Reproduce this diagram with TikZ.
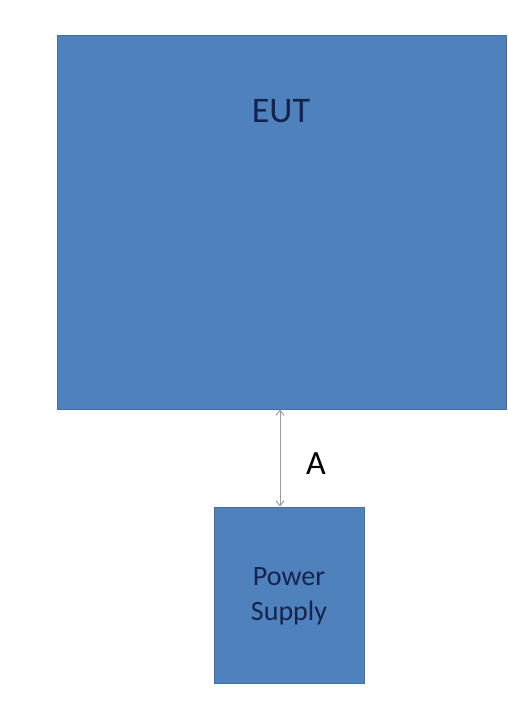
\documentclass[tikz,border=0pt]{standalone}
\usepackage{fontspec}
\setmainfont{Carlito}
\usetikzlibrary{arrows.meta}
\definecolor{boxfill}{HTML}{4F81BD}
\definecolor{boxline}{HTML}{41719C}
\definecolor{navy}{HTML}{16234F}
\definecolor{arrowgray}{HTML}{9A9A9A}
\tikzset{
  bluebox/.style={draw=boxline, line width=1pt, fill=boxfill, inner sep=0pt},
  link/.style={draw=arrowgray, line width=1pt, {Straight Barb[length=5pt,width=8pt]}-{Straight Barb[length=5pt,width=8pt]}}
}
\begin{document}
\begin{tikzpicture}[x=1pt,y=-1pt]
\useasboundingbox (0,0) rectangle (508,728);
\fill[white] (0,0) rectangle (508,728);
\node[bluebox, minimum width=449pt, minimum height=374pt] (eut) at (281.5,222) {};
\node[font=\fontsize{36}{40}\selectfont, text=navy] (eutlabel) at (281,111) {EUT};
\node[bluebox, minimum width=150pt, minimum height=176pt] (ps) at (289,595) {};
\node[font=\fontsize{28}{35}\selectfont, text=navy, align=center] (pslabel) at (289,596) {Power\\Supply};
\coordinate (linkx) at (280,0);
\draw[link] (eut.south -| linkx) -- (ps.north -| linkx);
\node[font=\fontsize{34}{40}\selectfont, text=black] (a) at (316,464) {A};
\end{tikzpicture}
\end{document}
